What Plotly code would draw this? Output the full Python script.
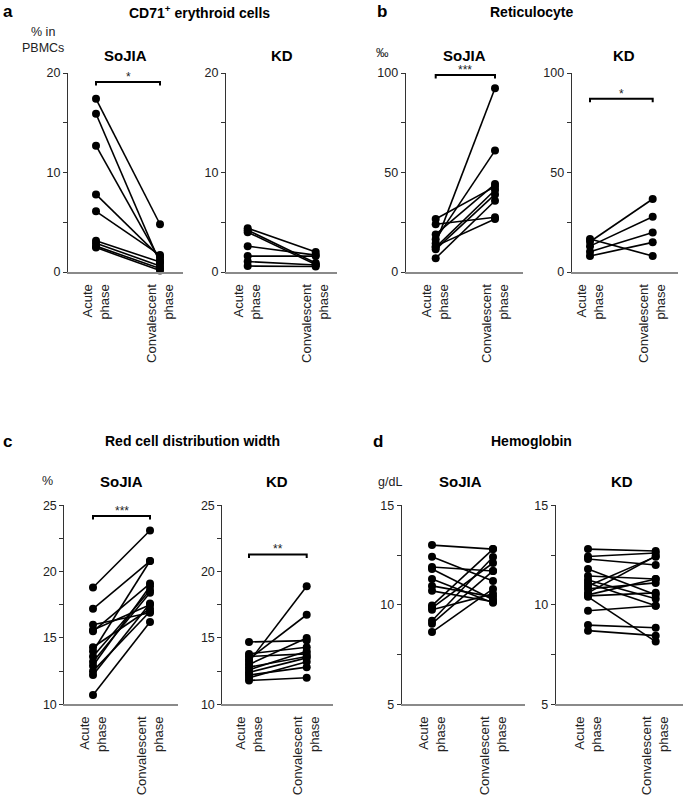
import plotly.graph_objects as go

W, H = 685, 812

# ---------------- data ----------------
phase_labels = ["Acute<br>phase", "Convalescent<br>phase"]

cd71_sojia_acute = [17.4, 15.9, 12.7, 7.8, 6.1, 3.15, 2.9, 2.6, 2.45]
cd71_sojia_conv = [4.8, 0.9, 1.2, 1.5, 1.7, 1.0, 0.6, 0.35, 0.15]
cd71_kd_acute = [4.4, 4.2, 4.0, 2.6, 1.6, 1.05, 0.6]
cd71_kd_conv = [2.0, 0.9, 0.75, 1.7, 1.6, 0.7, 0.55]

retic_sojia_acute = [6.9, 11.4, 12.4, 14.4, 16.4, 18.9, 24.0, 26.6, 13.0]
retic_sojia_conv = [35.8, 39.0, 41.2, 92.3, 61.0, 44.2, 27.5, 42.9, 26.6]
retic_kd_acute = [16.6, 15.2, 13.0, 10.2, 8.0]
retic_kd_conv = [8.0, 36.7, 27.8, 19.8, 14.9]

rdw_sojia_acute = [18.8, 17.2, 16.0, 15.6, 15.5, 14.3, 14.0, 13.6, 13.2, 12.9, 12.5, 12.2, 10.7]
rdw_sojia_conv = [23.1, 20.8, 16.9, 17.5, 19.1, 17.2, 20.8, 18.6, 18.4, 18.9, 17.0, 17.6, 16.2]
rdw_kd_acute = [14.7, 13.2, 13.4, 13.8, 13.6, 13.0, 12.8, 12.6, 12.4, 12.2, 12.0, 11.8]
rdw_kd_conv = [14.8, 18.9, 16.75, 14.3, 13.8, 15.0, 13.6, 14.0, 13.5, 12.8, 13.2, 12.0]

hb_sojia_acute = [13.0, 12.42, 11.9, 11.8, 11.3, 10.95, 10.7, 9.96, 9.85, 9.75, 9.2, 9.05, 8.63]
hb_sojia_conv = [12.8, 11.2, 11.7, 10.25, 10.1, 10.4, 10.15, 12.8, 12.1, 10.55, 12.4, 11.7, 10.8]
hb_kd_acute = [12.8, 12.43, 12.3, 11.8, 11.45, 11.25, 11.1, 10.95, 10.8, 10.6, 10.5, 10.4, 10.45, 9.7, 8.98, 8.7]
hb_kd_conv = [12.7, 12.6, 12.0, 10.5, 11.3, 10.3, 9.95, 12.42, 11.1, 12.45, 11.3, 8.15, 10.6, 9.95, 8.85, 8.45]

panel_letters = ["a", "b", "c", "d"]
panel_titles = ["CD71<sup>+</sup> erythroid cells", "Reticulocyte",
                "Red cell distribution width", "Hemoglobin"]
group_names = ["SoJIA", "KD"]
unit_labels = ["% in<br>PBMCs", "‰", "%", "g/dL"]

y_ranges = [[0, 20], [0, 100], [10, 25], [5, 15]]
y_dticks = [10, 50, 5, 5]
y_minor = [5, 25, 2.5, 2.5]

# significance: (subplot index, bracket y, drop, label)
sig_marks = [(0, 19.1, 0.35, "*"), (2, 99, 1.75, "***"), (3, 87, 1.75, "*"),
             (4, 24.2, 0.27, "***"), (5, 21.3, 0.27, "**")]

series = [
    (cd71_sojia_acute, cd71_sojia_conv), (cd71_kd_acute, cd71_kd_conv),
    (retic_sojia_acute, retic_sojia_conv), (retic_kd_acute, retic_kd_conv),
    (rdw_sojia_acute, rdw_sojia_conv), (rdw_kd_acute, rdw_kd_conv),
    (hb_sojia_acute, hb_sojia_conv), (hb_kd_acute, hb_kd_conv),
]

# ---------------- layout geometry (pixels) ----------------
# (axis left, acute x, convalescent x, axis right)
x_px = [(68, 96, 160, 183), (226, 247.7, 315.7, 337),
        (405.7, 435.7, 495, 523), (571.7, 590, 652.7, 678),
        (64.3, 93, 150, 178), (222.3, 249, 306.7, 333),
        (401.7, 432, 493, 525), (555.7, 588, 655.7, 683)]
row_px = [(73, 272), (505.3, 704.3)]

FONT = "Liberation Sans, Arial, Helvetica, sans-serif"


def px_x(p):
    return p / W


def px_y(p):
    return 1 - p / H


fig = go.Figure()
layout = dict(width=W, height=H, margin=dict(l=0, r=0, t=0, b=0, autoexpand=False),
              template="none",
              paper_bgcolor="white", plot_bgcolor="white",
              showlegend=False, font=dict(family=FONT, color="#000"))

for i, (acute, conv) in enumerate(series):
    panel = i // 2
    row = 0 if panel < 2 else 1
    xn = "x" if i == 0 else f"x{i+1}"
    yn = "y" if i == 0 else f"y{i+1}"
    for a, c in zip(acute, conv):
        fig.add_trace(go.Scatter(
            x=[0, 1], y=[a, c], xaxis=xn, yaxis=yn, mode="lines+markers",
            line=dict(color="black", width=1.6),
            marker=dict(color="black", size=8), cliponaxis=False,
            hoverinfo="y"))
    left, ax_, cx_, right = x_px[i]
    s = cx_ - ax_
    r0 = -(ax_ - left) / s
    r1 = (right - ax_) / s
    top, bot = row_px[row]
    layout["xaxis" if i == 0 else f"xaxis{i+1}"] = dict(
        domain=[px_x(left), px_x(right)], range=[r0, r1], anchor=yn,
        automargin=False,
        tickvals=[0, 1], ticktext=phase_labels, tickangle=-90,
        ticks="", showline=True, linecolor="#8a8a8a", linewidth=2,
        showgrid=False, zeroline=False, ticklabelstandoff=5,
        tickfont=dict(size=13, color="#222", family=FONT))
    yr = y_ranges[panel]
    layout["yaxis" if i == 0 else f"yaxis{i+1}"] = dict(
        domain=[px_y(bot), px_y(top)], range=yr, anchor=xn,
        automargin=False,
        dtick=y_dticks[panel], tick0=yr[0], ticks="outside", ticklen=4,
        tickcolor="#333", tickwidth=1, showline=True, linecolor="#333",
        linewidth=1, showgrid=False, zeroline=False,
        minor=dict(dtick=y_minor[panel], tick0=yr[0], ticks="outside",
                   ticklen=4, tickcolor="#333", showgrid=False),
        tickfont=dict(size=12.5, color="#222", family=FONT))

annotations = []
shapes = []

# significance brackets
for idx, yb, drop, lab in sig_marks:
    xn = "x" if idx == 0 else f"x{idx+1}"
    yn = "y" if idx == 0 else f"y{idx+1}"
    shapes.append(dict(type="path", xref=xn, yref=yn,
                       path=f"M 0,{yb-drop} L 0,{yb} L 1,{yb} L 1,{yb-drop}",
                       line=dict(color="black", width=2)))
    annotations.append(dict(x=0.5, y=yb, xref=xn, yref=yn, text=lab,
                            showarrow=False, xanchor="center", yanchor="bottom",
                            yshift=-4,
                            font=dict(size=12, color="#222", family=FONT)))


def paper_note(x, y, text, size, color="#000"):
    annotations.append(dict(x=px_x(x), y=px_y(y), xref="paper", yref="paper",
                            text=text, showarrow=False, xanchor="center",
                            yanchor="middle",
                            font=dict(size=size, family=FONT, color=color)))


# panel letters, titles
letter_pos = [(8, 12), (382, 12), (7, 441), (378, 441)]
title_pos = [(200, 12), (531, 12), (192, 441), (531, 441)]
for k in range(4):
    paper_note(*letter_pos[k], f"<b>{panel_letters[k]}</b>", 17)
    paper_note(*title_pos[k], f"<b>{panel_titles[k]}</b>", 14)

# group subtitles
sub_pos = [(125.5, 55), (281.5, 55), (464.5, 55), (623.5, 55),
           (121.5, 481.5), (277, 481.5), (460.5, 481.5), (622, 481.5)]
for i, (sx, sy) in enumerate(sub_pos):
    paper_note(sx, sy, f"<b>{group_names[i % 2]}</b>", 15)

# unit labels
unit_pos = [(43.5, 40), (382, 53), (47, 481), (390, 482)]
for k, (ux, uy) in enumerate(unit_pos):
    paper_note(ux, uy, unit_labels[k], 12.5, "#222")

layout["annotations"] = annotations
layout["shapes"] = shapes
fig.update_layout(**layout)
fig.write_html("out.html", config={"displayModeBar": False},
               post_script="document.body.style.margin='0px';")
